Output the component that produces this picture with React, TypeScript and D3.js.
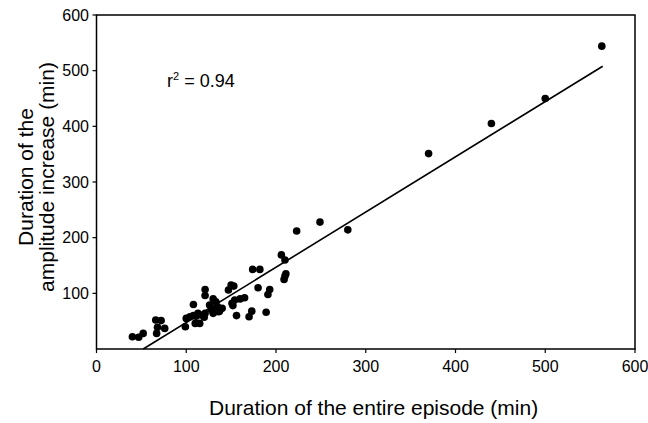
import React from "react";
import * as d3 from "d3";

const episodeX: number[] = [563, 500, 440, 370, 280, 249, 223, 206, 210, 210, 211, 209, 174, 182, 150, 153, 147, 180, 193, 191, 121, 121, 108, 165, 160, 154, 151, 152, 130, 133, 126, 140, 137, 130, 128, 121, 117, 113, 108, 104, 100, 115, 110, 99, 156, 173, 170, 189, 40, 47, 52, 66, 72, 68, 67, 76, 111, 120, 135, 136];
const increaseY: number[] = [544, 450, 405, 351, 214, 228, 212, 169, 160, 131, 135, 125, 143, 143, 115, 113, 106, 110, 107, 98, 107, 96, 80, 92, 90, 88, 82, 78, 90, 85, 79, 73, 68, 64, 71, 64, 61, 64, 60, 58, 55, 46, 46, 40, 60, 68, 58, 66, 22, 21, 28, 52, 51, 39, 28, 37, 59, 57, 76, 67];
const xTicks: number[] = [0, 100, 200, 300, 400, 500, 600];
const yTicks: number[] = [100, 200, 300, 400, 500, 600];
const fitX: number[] = [52, 564];
const fitY: number[] = [0, 508];

const W = 648, H = 423;
const L = 96.5, R = 635, T = 15, B = 349;
const font = "'Liberation Sans', Arial, sans-serif";

export default function App() {
  const x = d3.scaleLinear().domain([0, 600]).range([L, R]);
  const y = d3.scaleLinear().domain([0, 600]).range([B, T]);
  const line = d3.line<number>().x((_, i) => x(fitX[i])).y((d) => y(d));
  return (
    <svg width={W} height={H} style={{ position: "absolute", left: 0, top: 0, background: "#fff" }}>
      <rect x={L} y={T} width={R - L} height={B - T} fill="none" stroke="#000" strokeWidth={1.5} />
      {xTicks.map((t) => (
        <g key={"x" + t}>
          <line x1={x(t)} x2={x(t)} y1={B} y2={B + 4} stroke="#000" strokeWidth={1.2} />
          <text x={x(t)} y={372} fontSize={16} fontFamily={font} textAnchor="middle" fill="#000">{t}</text>
        </g>
      ))}
      {yTicks.map((t) => (
        <g key={"y" + t}>
          <line x1={L - 4} x2={L} y1={y(t)} y2={y(t)} stroke="#000" strokeWidth={1.2} />
          <text x={89} y={y(t) + 5.5} fontSize={16} fontFamily={font} textAnchor="end" fill="#000">{t}</text>
        </g>
      ))}
      <path d={line(fitY) || ""} fill="none" stroke="#000" strokeWidth={1.6} />
      {episodeX.map((v, i) => (
        <circle key={i} cx={x(v)} cy={y(increaseY[i])} r={3.8} fill="#000" />
      ))}
      <text x={167} y={87} fontSize={18} fontFamily={font} fill="#000">
        r<tspan dy={-7} fontSize={11}>2</tspan><tspan dy={7}> = 0.94</tspan>
      </text>
      <text x={209} y={415} fontSize={21} fontFamily={font} textAnchor="start" fill="#000">Duration of the entire episode (min)</text>
      <g transform={`translate(0, 177) rotate(-90)`}>
        <text x={0} y={33} fontSize={21} fontFamily={font} textAnchor="middle" fill="#000">Duration of the</text>
        <text x={0} y={54} fontSize={21} fontFamily={font} textAnchor="middle" fill="#000">amplitude increase (min)</text>
      </g>
    </svg>
  );
}
